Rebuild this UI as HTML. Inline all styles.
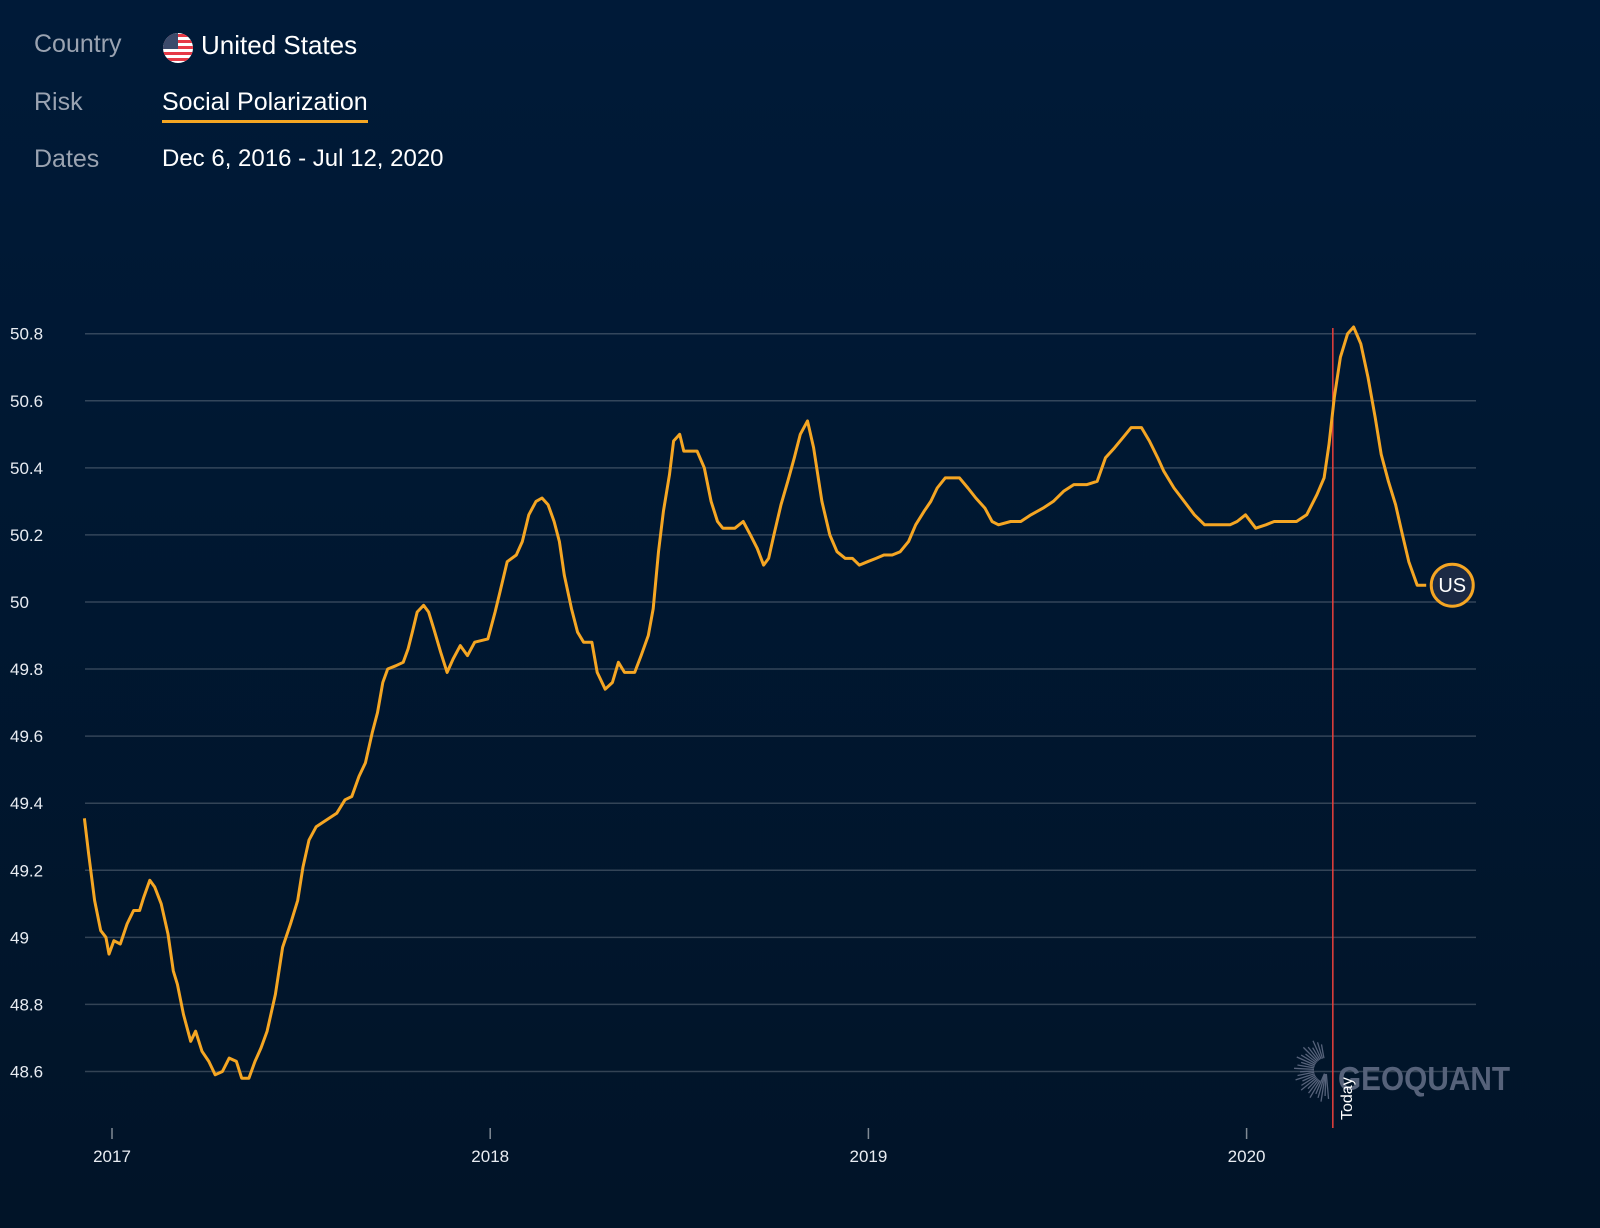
<!DOCTYPE html>
<html><head><meta charset="utf-8"><style>
html,body{margin:0;padding:0}
body{width:1600px;height:1228px;background:linear-gradient(#001a38,#011428);font-family:"Liberation Sans",sans-serif;overflow:hidden;position:relative}
.lbl{position:absolute;left:34px;color:#9aa3b1;font-size:25px}
.val{position:absolute;left:162px;color:#fff;font-size:25px}
</style></head><body>
<div class="lbl" style="top:30px">Country</div>
<svg style="position:absolute;left:162px;top:32px" width="32" height="32" viewBox="0 0 32 32"><defs><clipPath id="c"><circle cx="16" cy="16" r="15"/></clipPath></defs><g clip-path="url(#c)"><rect width="32" height="32" fill="#fff"/><g fill="#e63946"><rect y="2" width="32" height="3"/><rect y="8" width="32" height="3"/><rect y="14" width="32" height="3"/><rect y="20" width="32" height="3"/><rect y="26" width="32" height="3"/></g><rect width="16" height="17" fill="#3c4a6b"/></g></svg>
<div class="val" style="top:30px;left:201px;font-size:26px">United States</div>
<div class="lbl" style="top:88px">Risk</div>
<div class="val" style="top:88px;border-bottom:3px solid #f5a623;padding-bottom:3px">Social Polarization</div>
<div class="lbl" style="top:145px">Dates</div>
<div class="val" style="top:145px;font-size:24px">Dec 6, 2016 - Jul 12, 2020</div>
<svg id="chart" style="position:absolute;left:0;top:0" width="1600" height="1228"></svg>
<script>
const yTicks=[48.6,48.8,49,49.2,49.4,49.6,49.8,50,50.2,50.4,50.6,50.8];
const yTickLabels=["48.6","48.8","49","49.2","49.4","49.6","49.8","50","50.2","50.4","50.6","50.8"];
const xTicks=[2017,2018,2019,2020];
const xTickLabels=["2017","2018","2019","2020"];
const todayT=2020.228;
const times=[-0.073,-0.062,-0.046,-0.030,-0.016,-0.008,0.005,0.022,0.040,0.057,0.073,0.084,0.100,0.113,0.130,0.148,0.162,0.173,0.189,0.208,0.221,0.238,0.256,0.273,0.292,0.310,0.329,0.343,0.362,0.378,0.394,0.410,0.432,0.451,0.472,0.491,0.505,0.521,0.540,0.567,0.594,0.616,0.634,0.653,0.670,0.688,0.702,0.716,0.729,0.751,0.770,0.783,0.794,0.807,0.824,0.837,0.851,0.869,0.886,0.902,0.921,0.940,0.959,0.994,1.013,1.026,1.045,1.069,1.085,1.102,1.121,1.137,1.153,1.169,1.183,1.196,1.215,1.231,1.247,1.269,1.283,1.304,1.323,1.339,1.355,1.382,1.399,1.418,1.431,1.445,1.458,1.474,1.485,1.501,1.512,1.547,1.566,1.584,1.601,1.615,1.647,1.669,1.688,1.706,1.723,1.736,1.750,1.769,1.787,1.804,1.820,1.839,1.855,1.877,1.898,1.917,1.939,1.958,1.976,1.998,2.020,2.041,2.063,2.084,2.106,2.125,2.147,2.165,2.182,2.203,2.219,2.241,2.263,2.284,2.308,2.327,2.344,2.376,2.403,2.430,2.462,2.489,2.516,2.543,2.578,2.605,2.627,2.651,2.673,2.695,2.722,2.743,2.765,2.781,2.808,2.835,2.862,2.889,2.921,2.956,2.975,2.997,3.024,3.051,3.073,3.100,3.132,3.159,3.186,3.205,3.218,3.232,3.248,3.267,3.283,3.302,3.321,3.340,3.356,3.375,3.394,3.410,3.429,3.451,3.475];
const values=[49.355,49.25,49.11,49.02,49.0,48.95,48.99,48.98,49.04,49.08,49.08,49.12,49.17,49.15,49.10,49.01,48.90,48.86,48.77,48.69,48.72,48.66,48.63,48.59,48.60,48.64,48.63,48.58,48.58,48.63,48.67,48.72,48.83,48.97,49.04,49.11,49.21,49.29,49.33,49.35,49.37,49.41,49.42,49.48,49.52,49.61,49.67,49.76,49.80,49.81,49.82,49.86,49.91,49.97,49.99,49.97,49.92,49.85,49.79,49.83,49.87,49.84,49.88,49.89,49.97,50.03,50.12,50.14,50.18,50.26,50.30,50.31,50.29,50.24,50.18,50.08,49.98,49.91,49.88,49.88,49.79,49.74,49.76,49.82,49.79,49.79,49.84,49.90,49.98,50.15,50.27,50.38,50.48,50.50,50.45,50.45,50.40,50.30,50.24,50.22,50.22,50.24,50.20,50.16,50.11,50.13,50.20,50.29,50.36,50.43,50.50,50.54,50.46,50.30,50.20,50.15,50.13,50.13,50.11,50.12,50.13,50.14,50.14,50.15,50.18,50.23,50.27,50.30,50.34,50.37,50.37,50.37,50.34,50.31,50.28,50.24,50.23,50.24,50.24,50.26,50.28,50.30,50.33,50.35,50.35,50.36,50.43,50.46,50.49,50.52,50.52,50.48,50.43,50.39,50.34,50.30,50.26,50.23,50.23,50.23,50.24,50.26,50.22,50.23,50.24,50.24,50.24,50.26,50.32,50.37,50.47,50.61,50.73,50.80,50.82,50.77,50.67,50.55,50.44,50.36,50.29,50.21,50.12,50.05,50.05];
const endLabel="US";
const NS="http://www.w3.org/2000/svg";
const svg=document.getElementById('chart');
const xs=t=>112+(t>1000?t-2017:t)*378.2;
const ys=v=>333.7+(50.8-v)/0.2*67.07;
function mk(tag,attrs,parent){const e=document.createElementNS(NS,tag);for(const k in attrs)e.setAttribute(k,attrs[k]);(parent||svg).appendChild(e);return e;}
yTicks.forEach((v,i)=>{
 const g=mk('line',{x1:85,x2:1476,y1:ys(v),y2:ys(v),stroke:'rgba(255,255,255,0.2)','stroke-width':1.5});
 
 
 const t=mk('text',{x:10,y:ys(v)+6,fill:'#e8ecf2','font-size':17,'font-family':'Liberation Sans, sans-serif'});
 t.textContent=yTickLabels[i];
 
 
});
xTicks.forEach((y,i)=>{
 const x=xs(y);
 const l=mk('line',{x1:x,x2:x,y1:1128,y2:1139,stroke:'rgba(255,255,255,0.5)','stroke-width':1.5});
 
 
 const t=mk('text',{x:x,y:1162,fill:'#e8ecf2','font-size':17,'text-anchor':'middle','font-family':'Liberation Sans, sans-serif'});
 t.textContent=xTickLabels[i];
 
 
});
const logo=mk('g',{});


for(let a=0;a<26;a++){const deg=100+a*7;const ang=deg*Math.PI/180;const cx=1326,cy=1070;
 const r1=a>20?4:12, r2=26+(a%3)*3;
 mk('line',{x1:cx+Math.cos(ang)*r1,y1:cy-Math.sin(ang)*r1,x2:cx+Math.cos(ang)*r2,y2:cy-Math.sin(ang)*r2,stroke:'#56627a','stroke-width':1.3},logo);}
const lt=mk('text',{x:1338,y:1090,fill:'#56627a','font-size':33,'font-weight':'bold',textLength:172,lengthAdjust:'spacingAndGlyphs','font-family':'Liberation Sans Narrow, Liberation Sans, sans-serif'},logo);
lt.textContent='GEOQUANT';
const tx=xs(todayT);
const tl=mk('line',{x1:tx,x2:tx,y1:328,y2:1128,stroke:'#e8403c','stroke-width':1.5});


const tt=mk('text',{x:0,y:0,fill:'#fff','font-size':16,transform:`translate(${tx+19},1120) rotate(-90)`,'font-family':'Liberation Sans, sans-serif'});
tt.textContent='Today';


let d='';times.forEach((t,i)=>{d+=(i?'L':'M')+xs(t).toFixed(1)+','+ys(values[i]).toFixed(1);});
const p=mk('path',{d:d,fill:'none',stroke:'#f5a623','stroke-width':3,'stroke-linejoin':'round'});


const lastV=values[values.length-1];
const cx=xs(times[times.length-1])+26, cy=ys(lastV);
const c=mk('circle',{cx:cx,cy:cy,r:21,fill:'#1c2a44',stroke:'#f5a623','stroke-width':3});


const ct=mk('text',{x:cx,y:cy+7,fill:'#fff','font-size':20,'text-anchor':'middle','font-family':'Liberation Sans, sans-serif'});
ct.textContent=endLabel;


</script>
</body></html>
